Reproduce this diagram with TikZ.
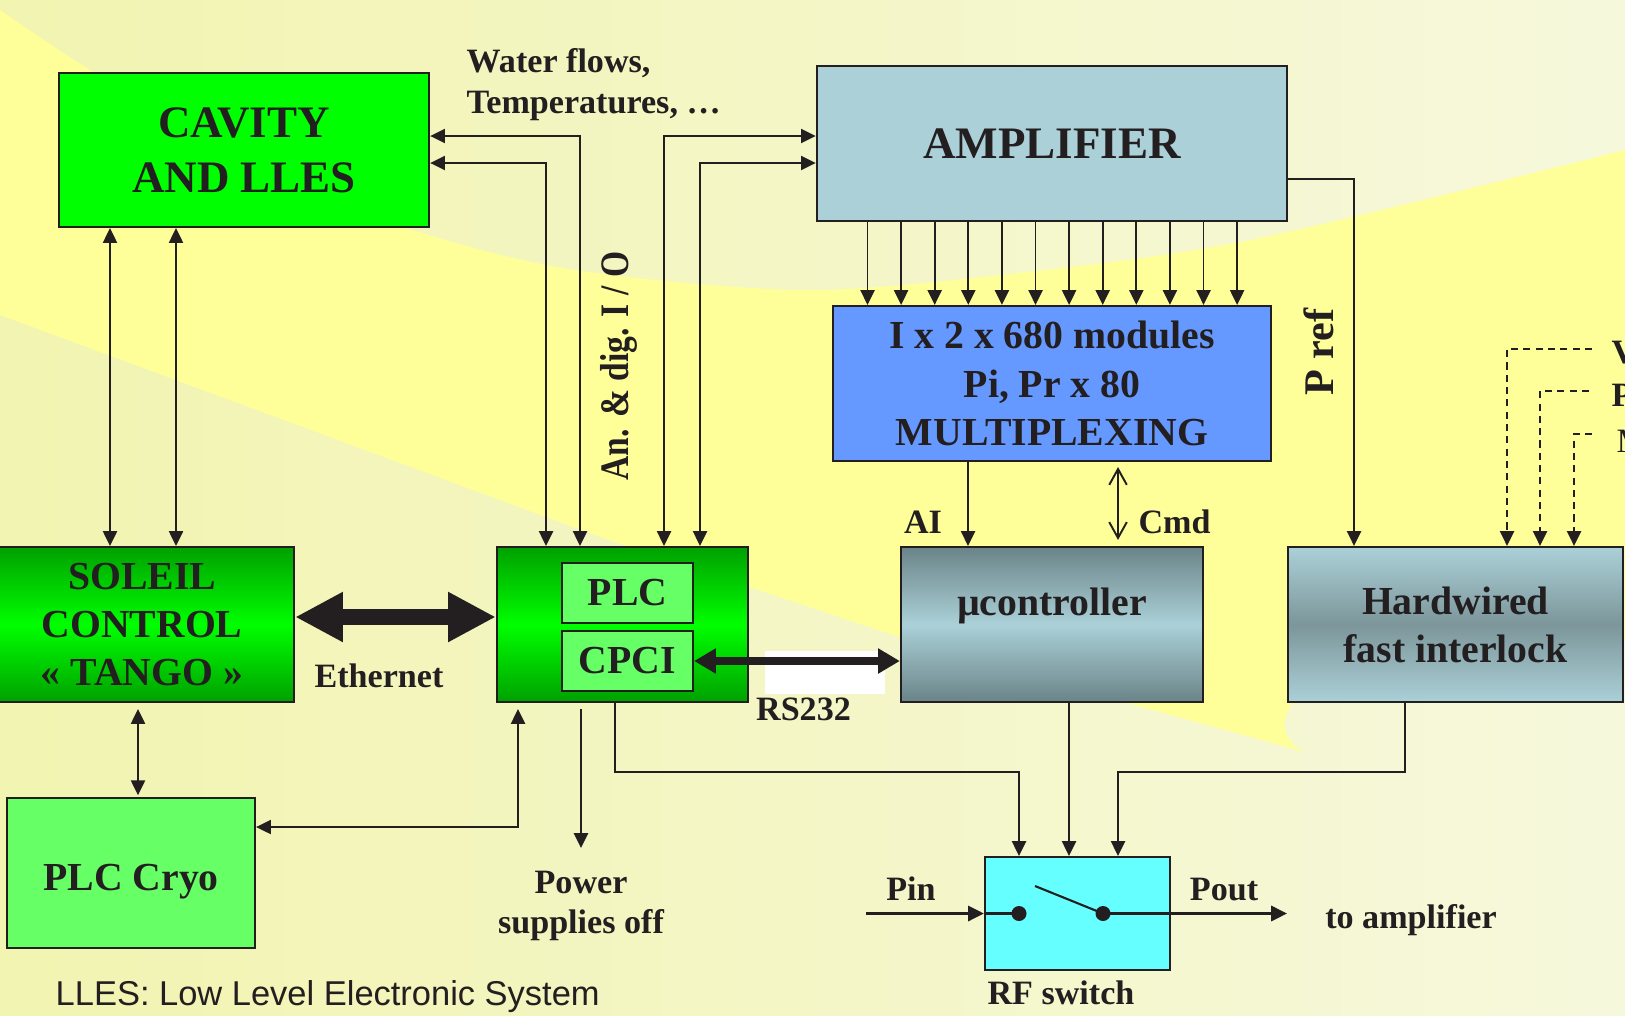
\documentclass[tikz,border=0pt]{standalone}
\usepackage{fontspec}
\setmainfont{Liberation Serif}
\setsansfont{Liberation Sans}
\usetikzlibrary{arrows.meta,positioning,calc}
\definecolor{ink}{HTML}{231F20}
\definecolor{paleL}{HTML}{F2F4B1}
\definecolor{paleR}{HTML}{F6F8DC}
\definecolor{sunband}{HTML}{FFFF99}
\definecolor{cavgreen}{HTML}{00FF00}
\definecolor{darkgreen}{HTML}{00A000}
\definecolor{litegreen}{HTML}{66FF66}
\definecolor{ampblue}{HTML}{ABD0D8}
\definecolor{steel}{HTML}{6A8488}
\definecolor{steelmid}{HTML}{7C969A}
\definecolor{muxblue}{HTML}{6699FF}
\definecolor{switchcyan}{HTML}{66FFFF}
\newcommand{\ttlfont}{\fontsize{12.8pt}{15.6pt}\selectfont\bfseries}
\newcommand{\blkfont}{\fontsize{11.3pt}{13.7pt}\selectfont\bfseries}
\newcommand{\lblfont}{\fontsize{9.7pt}{11.5pt}\selectfont\bfseries}

\begin{document}
\begin{tikzpicture}[x=0.01cm, y=-0.01cm,
  blk/.style={rectangle, draw=ink, line width=0.6pt, inner sep=0pt, align=center, font=\blkfont, text=ink},
  lbl/.style={inner sep=0pt, font=\lblfont, text=ink},
  arr/.style={draw=ink, line width=0.55pt, -{Triangle[length=4.2pt,width=4pt]}},
  dbl/.style={draw=ink, line width=0.55pt, {Triangle[length=4.2pt,width=4pt]}-{Triangle[length=4.2pt,width=4pt]}},
  fatarr/.style={draw=ink, line width=4.5pt, {Triangle[length=13.6pt,width=13.3pt]}-{Triangle[length=13.6pt,width=13.3pt]}},
  busarr/.style={draw=ink, line width=2pt, {Triangle[length=6.2pt,width=6.8pt]}-{Triangle[length=6.2pt,width=6.8pt]}},
  rfarr/.style={draw=ink, line width=0.8pt, -{Triangle[length=4.5pt,width=4.3pt]}},
  dotted line/.style={draw=ink, line width=0.55pt, dash pattern=on 2pt off 1.5pt, -{Triangle[length=4.2pt,width=4pt]}},
  contact/.style={circle, fill=ink, inner sep=0pt, minimum size=0.15cm}
]
  \useasboundingbox (0,0) rectangle (1625,1015);
  \clip (0,0) rectangle (1625,1015);
  % background
  \fill[left color=paleL, right color=paleR] (0,0) rectangle (1625,1015);
  \fill[sunband] plot[smooth] coordinates {(0,10) (90,70) (250,165) (413,230) (575,270) (800,290) (1000,275) (1250,240) (1625,150)}
    -- (1625,640) -- (1292,704) .. controls (1278,725) and (1285,742) .. (1305,752)
    -- (1127,703) -- (899,637) -- (600,537) -- (0,315) -- cycle;

  % blocks
  \node[blk, font=\ttlfont, fill=cavgreen, minimum width=3.7cm, minimum height=1.54cm] (cavity) at (244,150) {CAVITY\\AND LLES};
  \node[blk, font=\ttlfont, fill=ampblue, minimum width=4.7cm, minimum height=1.55cm] (amp) at (1052,143.5) {AMPLIFIER};
  \node[blk, fill=muxblue, minimum width=4.38cm, minimum height=1.55cm] (mux) at (1052,383.5) {I x 2 x 680 modules\\Pi, Pr x 80\\MULTIPLEXING};
  \node[blk, top color=darkgreen, bottom color=darkgreen, middle color=cavgreen, minimum width=3.04cm, minimum height=1.55cm] (soleil) at (142,624.5) {SOLEIL\\CONTROL\\« TANGO »};
  \node[blk, top color=darkgreen, bottom color=darkgreen, middle color=cavgreen, minimum width=2.51cm, minimum height=1.55cm] (plc) at (622.5,624.5) {};
  \node[blk, fill=litegreen, minimum width=1.31cm, minimum height=0.6cm] (plcin) at (627.5,593) {PLC};
  \node[blk, fill=litegreen, minimum width=1.31cm, minimum height=0.6cm] (cpci) at (627.5,661) {CPCI};
  \node[blk, top color=steel, bottom color=steel, middle color=ampblue, minimum width=3.02cm, minimum height=1.55cm] (uctrl) at (1052,624.5) {\raisebox{2.7pt}[0pt][0pt]{µcontroller}};
  \node[blk, top color=ampblue, bottom color=ampblue, middle color=steelmid, minimum width=3.35cm, minimum height=1.55cm] (hwil) at (1455.5,624.5) {Hardwired\\fast interlock};
  \node[blk, fill=litegreen, minimum width=2.48cm, minimum height=1.5cm] (cryo) at (131,873) {\raisebox{-5pt}[0pt][0pt]{PLC Cryo}};
  \node[blk, fill=switchcyan, minimum width=1.85cm, minimum height=1.13cm] (rfsw) at (1077.5,913.5) {};

  % labels
  \node[lbl, anchor=north west, align=left] (water) at (466,48) {Water flows,\\Temperatures, …};
  \node[lbl, font=\fontsize{11.5pt}{13pt}\selectfont\bfseries, rotate=90, anchor=base] (anio) at (628,366) {\scalebox{0.83}[1]{An. \& dig. I / O}};
  \node[lbl, font=\fontsize{12pt}{14pt}\selectfont\bfseries, rotate=90, anchor=base] (pref) at (1333,352) {P ref};
  \node[lbl, anchor=base] (eth) at (379,687.7) {Ethernet};
  \node[lbl, anchor=base] (rs) at (803.5,720) {RS232};
  \node[lbl, anchor=base] (ai) at (923,533) {AI};
  \node[lbl, anchor=base] (cmd) at (1174.5,533) {Cmd};
  \node[lbl, anchor=north, align=center] (power) at (581,870) {Power\\supplies off};
  \node[lbl, anchor=base] (pin) at (911,900) {Pin};
  \node[lbl, anchor=base] (pout) at (1224,900) {Pout};
  \node[lbl, anchor=base] (toamp) at (1411,928) {to amplifier};
  \node[lbl, anchor=base] (rfname) at (1061,1004) {RF switch};
  \node[lbl, anchor=base west] (vtag) at (1611,363) {V};
  \node[lbl, anchor=base west] (ptag) at (1611,406) {P};
  \node[lbl, font=\lblfont\mdseries, anchor=base west] (mtag) at (1616,452) {M};
  \node[inner sep=0pt, font=\sffamily\fontsize{9.8pt}{12pt}\selectfont, text=ink, anchor=base west] (legend) at (55,1005) {LLES: Low Level Electronic System};

  % cavity links
  \foreach \xx in {110,176}
    \draw[dbl] (cavity.south -| \xx,0) -- (soleil.north -| \xx,0);
  \draw[dbl] (cavity.east |- 0,136) -| (plc.north -| 580,0);
  \draw[dbl] (cavity.east |- 0,163) -| (plc.north -| 546,0);
  % amplifier links
  \draw[dbl] (amp.west |- 0,136) -| (plc.north -| 664,0);
  \draw[dbl] (amp.west |- 0,163) -| (plc.north -| 700,0);
  \foreach \i in {0,...,11}{
    \pgfmathsetmacro{\xx}{867.5+33.6*\i}
    \draw[arr] (amp.south -| \xx,0) -- (mux.north -| \xx,0);
  }
  \draw[arr] (amp.east |- 0,179) -| (hwil.north -| 1354,0);
  \draw[arr] (mux.south -| 968,0) -- (uctrl.north -| 968,0);
  \draw[draw=ink, line width=0.55pt, {Straight Barb[length=4.5pt,width=5pt]}-{Straight Barb[length=4.5pt,width=5pt]}, shorten <=1.4pt, shorten >=1.7pt]
    (mux.south -| 1118,0) -- (uctrl.north -| 1118,0);

  % interlock inputs
  \coordinate (vend) at (1592,349);
  \coordinate (pend) at (1589,391);
  \coordinate (mend) at (1592,434);
  \draw[dotted line] (vend) -| (hwil.north -| 1507,0);
  \draw[dotted line] (pend) -| (hwil.north -| 1540,0);
  \draw[dotted line] (mend) -| (hwil.north -| 1574,0);

  % buses
  \draw[fatarr] (soleil.east |- 0,617) -- (plc.west |- 0,617);
  \fill[white] (765,651) rectangle (885,694);
  \draw[busarr] (cpci.east) -- (uctrl.west |- cpci.east);

  % lower links
  \draw[dbl, shorten <=1.7pt, shorten >=0.5pt] (soleil.south -| 138,0) -- (cryo.north -| 138,0);
  \draw[dbl, shorten >=1.7pt] (cryo.east |- 0,827) -| (plc.south -| 518,0);
  \coordinate (pwrtip) at (581,848);
  \draw[arr, shorten <=1.7pt] (plc.south -| 581,0) -- (pwrtip);
  \draw[arr] (plc.south -| 615,0) |- (1019,772) -- (rfsw.north -| 1019,0);
  \draw[arr] (uctrl.south -| 1069,0) -- (rfsw.north -| 1069,0);
  \draw[arr] (hwil.south -| 1405,0) |- (1118,772) -- (rfsw.north -| 1118,0);

  % switch
  \coordinate (pinstart) at (866,913.5);
  \coordinate (poutend) at (1287,913.5);
  \coordinate (lever) at (1035,886);
  \node[contact] (dotin) at (1019,913.5) {};
  \node[contact] (dotout) at (1103,913.5) {};
  \draw[rfarr] (pinstart) -- (rfsw.west);
  \draw[draw=ink, line width=0.8pt] (rfsw.west) -- (dotin.center);
  \draw[rfarr] (dotout.center) -- (poutend);
  \draw[draw=ink, line width=0.6pt] (dotout.center) -- (lever);
\end{tikzpicture}
\end{document}
